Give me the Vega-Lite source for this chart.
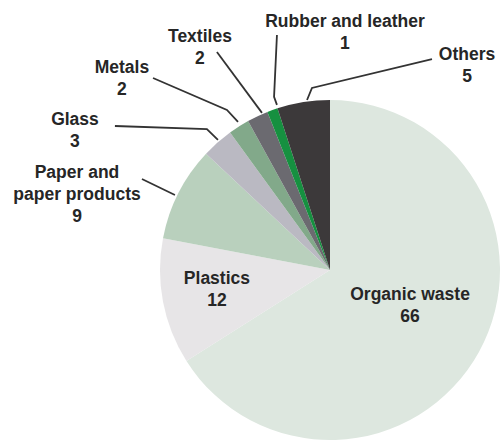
{
  "$schema": "https://vega.github.io/schema/vega-lite/v6.json",
  "width": 500,
  "height": 446,
  "autosize": {"type": "fit", "contains": "padding"},
  "padding": 0,
  "background": "white",
  "config": {"view": {"stroke": null}},
  "datasets": {
    "slices": [
      {"category": "Organic waste", "value": 66, "order": 1},
      {"category": "Plastics", "value": 12, "order": 2},
      {"category": "Paper and paper products", "value": 9, "order": 3},
      {"category": "Glass", "value": 3, "order": 4},
      {"category": "Metals", "value": 2, "order": 5},
      {"category": "Textiles", "value": 2, "order": 6},
      {"category": "Rubber and leather", "value": 1, "order": 7},
      {"category": "Others", "value": 5, "order": 8}
    ],
    "labels": [
      {"label": "Organic waste\n66", "lx": 0.471, "ly": -0.147},
      {"label": "Plastics\n12", "lx": -0.665, "ly": -0.053},
      {"label": "Paper and\npaper products\n9", "lx": -1.488, "ly": 0.571},
      {"label": "Glass\n3", "lx": -1.5, "ly": 0.882},
      {"label": "Metals\n2", "lx": -1.224, "ly": 1.188},
      {"label": "Textiles\n2", "lx": -0.765, "ly": 1.371},
      {"label": "Rubber and leather\n1", "lx": 0.088, "ly": 1.459},
      {"label": "Others\n5", "lx": 0.806, "ly": 1.265}
    ],
    "leaders": [
      {"id": "Paper", "seq": 1, "lx": -1.106, "ly": 0.535},
      {"id": "Paper", "seq": 2, "lx": -0.912, "ly": 0.441},
      {"id": "Glass", "seq": 1, "lx": -1.265, "ly": 0.847},
      {"id": "Glass", "seq": 2, "lx": -0.724, "ly": 0.829},
      {"id": "Glass", "seq": 3, "lx": -0.659, "ly": 0.765},
      {"id": "Metals", "seq": 1, "lx": -1.041, "ly": 1.129},
      {"id": "Metals", "seq": 2, "lx": -0.606, "ly": 0.941},
      {"id": "Metals", "seq": 3, "lx": -0.541, "ly": 0.871},
      {"id": "Textiles", "seq": 1, "lx": -0.665, "ly": 1.282},
      {"id": "Textiles", "seq": 2, "lx": -0.4, "ly": 0.924},
      {"id": "Rubber", "seq": 1, "lx": -0.312, "ly": 1.382},
      {"id": "Rubber", "seq": 2, "lx": -0.329, "ly": 1.018},
      {"id": "Rubber", "seq": 3, "lx": -0.312, "ly": 0.971},
      {"id": "Others", "seq": 1, "lx": 0.6, "ly": 1.241},
      {"id": "Others", "seq": 2, "lx": -0.106, "ly": 1.071},
      {"id": "Others", "seq": 3, "lx": -0.135, "ly": 1.0}
    ]
  },
  "layer": [
    {
      "data": {"name": "slices"},
      "mark": {"type": "arc", "radius": 170},
      "encoding": {
        "x": {"datum": 0, "type": "quantitative", "scale": {"domain": [-1.941, 1.0], "nice": false, "zero": false}, "axis": null},
        "y": {"datum": 0, "type": "quantitative", "scale": {"domain": [-1.035, 1.588], "nice": false, "zero": false}, "axis": null},
        "theta": {"field": "value", "type": "quantitative", "stack": true},
        "order": {"field": "order", "type": "quantitative"},
        "color": {
          "field": "category", "type": "nominal", "legend": null,
          "scale": {
            "domain": ["Organic waste", "Plastics", "Paper and paper products", "Glass", "Metals", "Textiles", "Rubber and leather", "Others"],
            "range": ["#dde7df", "#e7e5e7", "#b9d0bd", "#bab9c2", "#82a98a", "#6b6a70", "#169040", "#3c393a"]
          }
        }
      }
    },
    {
      "data": {"name": "leaders"},
      "mark": {"type": "line", "color": "#333333", "strokeWidth": 1.8},
      "encoding": {
        "x": {"field": "lx", "type": "quantitative", "scale": {"domain": [-1.941, 1.0], "nice": false, "zero": false}, "axis": null},
        "y": {"field": "ly", "type": "quantitative", "scale": {"domain": [-1.035, 1.588], "nice": false, "zero": false}, "axis": null},
        "detail": {"field": "id"},
        "order": {"field": "seq", "type": "quantitative"}
      }
    },
    {
      "data": {"name": "labels"},
      "mark": {"type": "text", "font": "Liberation Sans", "fontWeight": "bold", "fontSize": 17.5, "lineHeight": 22, "lineBreak": "\n", "align": "center", "baseline": "middle", "color": "#262626"},
      "encoding": {
        "x": {"field": "lx", "type": "quantitative", "scale": {"domain": [-1.941, 1.0], "nice": false, "zero": false}, "axis": null},
        "y": {"field": "ly", "type": "quantitative", "scale": {"domain": [-1.035, 1.588], "nice": false, "zero": false}, "axis": null},
        "text": {"field": "label"}
      }
    }
  ]
}
